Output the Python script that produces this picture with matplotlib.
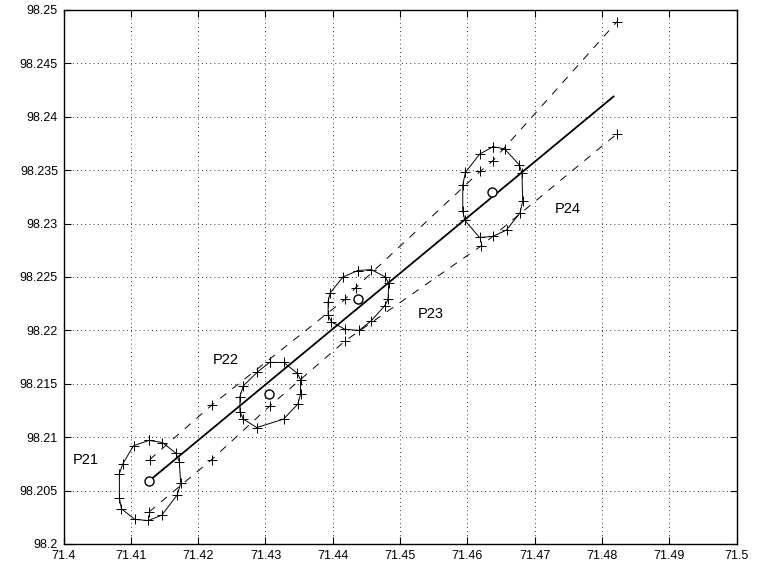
import matplotlib
matplotlib.use("Agg")
import matplotlib.pyplot as plt
import numpy as np

plt.rcParams['font.family'] = ['Liberation Sans', 'DejaVu Sans']

# station names and centres
names = ["P21", "P22", "P23", "P24"]
centre_x = [71.4127, 71.4305, 71.4437, 71.4637]
centre_y = [98.2059, 98.2140, 98.2229, 98.2330]

# error ellipse vertices
p21_x = [71.4127, 71.4147, 71.4167, 71.4172, 71.4174, 71.4169, 71.4146,
         71.4126, 71.4106, 71.4086, 71.4083, 71.4083, 71.4088, 71.4104]
p21_y = [98.2097, 98.2095, 98.2085, 98.2077, 98.2057, 98.2046, 98.2027,
         98.2022, 98.2023, 98.2033, 98.2043, 98.2066, 98.2075, 98.2092]
p22_x = [71.4306, 71.4327, 71.4347, 71.4352, 71.4352, 71.4348, 71.4327,
         71.4287, 71.4267, 71.4262, 71.4262, 71.4267, 71.4288]
p22_y = [98.2170, 98.2170, 98.2160, 98.2154, 98.2140, 98.2131, 98.2117,
         98.2109, 98.2117, 98.2124, 98.2138, 98.2148, 98.2161]
p23_x = [71.4437, 71.4457, 71.4478, 71.4483, 71.4482, 71.4477, 71.4457,
         71.4439, 71.4418, 71.4398, 71.4393, 71.4393, 71.4396, 71.4415]
p23_y = [98.2256, 98.2257, 98.2250, 98.2244, 98.2229, 98.2223, 98.2209,
         98.2200, 98.2201, 98.2208, 98.2214, 98.2227, 98.2235, 98.2250]
p24_x = [71.4638, 71.4655, 71.4677, 71.4681, 71.4682, 71.4678, 71.4658,
         71.4638, 71.4618, 71.4596, 71.4593, 71.4593, 71.4597, 71.4618]
p24_y = [98.2372, 98.2370, 98.2355, 98.2347, 98.2321, 98.2310, 98.2294,
         98.2288, 98.2287, 98.2303, 98.2312, 98.2336, 98.2348, 98.2365]

# fitted line
fit_x = [71.4127, 71.4817]
fit_y = [98.2059, 98.2419]

# upper and lower dashed bounds
upper_x = [71.4128, 71.4220, 71.4418, 71.4434, 71.4619, 71.4638, 71.4822]
upper_y = [98.2079, 98.2130, 98.2229, 98.2240, 98.2349, 98.2359, 98.2489]
lower_x = [71.4127, 71.4220, 71.4306, 71.4418, 71.4620, 71.4822]
lower_y = [98.2030, 98.2079, 98.2129, 98.2190, 98.2279, 98.2384]

x_ticks = [71.4, 71.41, 71.42, 71.43, 71.44, 71.45, 71.46, 71.47, 71.48, 71.49, 71.5]
x_labels = ["71.4", "71.41", "71.42", "71.43", "71.44", "71.45", "71.46",
            "71.47", "71.48", "71.49", "71.5"]
y_ticks = [98.2, 98.205, 98.21, 98.215, 98.22, 98.225, 98.23, 98.235, 98.24, 98.245, 98.25]
y_labels = ["98.2", "98.205", "98.21", "98.215", "98.22", "98.225", "98.23",
            "98.235", "98.24", "98.245", "98.25"]

fig = plt.figure(figsize=(7.57, 5.71), dpi=100)
ax = fig.add_axes([0.0839, 0.0473, 0.8894, 0.9352])

# ellipses
for ex, ey in [(p21_x, p21_y), (p22_x, p22_y), (p23_x, p23_y), (p24_x, p24_y)]:
    ex = ex + ex[:1]
    ey = ey + ey[:1]
    ax.plot(ex, ey, color="k", linewidth=0.7, marker="+", markersize=7,
            markeredgewidth=0.7)

# dashed bounds
for bx, by in [(upper_x, upper_y), (lower_x, lower_y)]:
    ax.plot(bx, by, color="k", linewidth=0.7, linestyle=(0, (8, 8)),
            marker="+", markersize=7, markeredgewidth=0.7)

# fitted line
ax.plot(fit_x, fit_y, color="k", linewidth=1.3)

# centres
ax.plot(centre_x, centre_y, linestyle="none", marker="o", markersize=6.5,
        markerfacecolor="white", markeredgecolor="k", markeredgewidth=1.0)

# station labels
label_pos = [(71.4014, 98.2079), (71.4222, 98.2172), (71.4526, 98.2215), (71.4730, 98.2314)]
for name, (lx, ly) in zip(names, label_pos):
    ax.text(lx, ly, name, fontsize=10.5, ha="left", va="center")

ax.set_xlim(71.4, 71.5)
ax.set_ylim(98.2, 98.25)
ax.set_xticks(x_ticks)
ax.set_xticklabels(x_labels)
ax.set_yticks(y_ticks)
ax.set_yticklabels(y_labels)
ax.tick_params(direction="in", length=5, width=0.8, labelsize=9,
               top=True, right=True)
ax.tick_params(axis="x", pad=4)
ax.tick_params(axis="y", pad=4)
ax.grid(True, color="k", linestyle=(0, (1, 4)), linewidth=0.6)
for s in ax.spines.values():
    s.set_linewidth(1.0)

fig.savefig("out.png", dpi=100)
